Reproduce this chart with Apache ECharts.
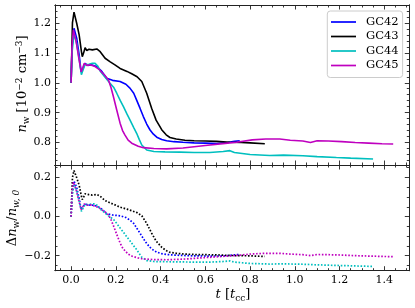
<!DOCTYPE html>
<html>
<head>
<meta charset="utf-8">
<script src="https://cdn.jsdelivr.net/npm/echarts@6/dist/echarts.min.js"></script>
<style>html,body{margin:0;padding:0;background:#fff}#c{width:415px;height:308px}</style>
</head>
<body>
<div id="c"></div>
<script>
// ---- data ----
const names = ['GC42', 'GC43', 'GC44', 'GC45'];
const colors = ['#0000ff', '#000000', '#00bfbf', '#bf00bf'];

const t42 = [0, 0.004, 0.013, 0.025, 0.036, 0.045, 0.052, 0.062, 0.075, 0.09, 0.115, 0.135, 0.159, 0.185, 0.219, 0.245, 0.263, 0.28, 0.293, 0.308, 0.323, 0.338, 0.353, 0.368, 0.383, 0.405, 0.427, 0.46, 0.5, 0.55, 0.6, 0.65, 0.7, 0.73, 0.754];
const n42 = [1.0, 1.12, 1.182, 1.149, 1.093, 1.036, 1.045, 1.065, 1.058, 1.06, 1.054, 1.04, 1.015, 1.008, 1.004, 0.995, 0.982, 0.965, 0.942, 0.915, 0.887, 0.862, 0.842, 0.828, 0.818, 0.81, 0.806, 0.803, 0.801, 0.799, 0.798, 0.797, 0.8, 0.804, 0.806];
const d42 = [0.0, 0.12, 0.182, 0.149, 0.093, 0.036, 0.045, 0.065, 0.058, 0.06, 0.054, 0.04, 0.015, 0.008, 0.004, -0.005, -0.018, -0.035, -0.058, -0.085, -0.113, -0.138, -0.158, -0.172, -0.182, -0.19, -0.194, -0.197, -0.199, -0.201, -0.202, -0.203, -0.2, -0.196, -0.194];

const t43 = [0, 0.006, 0.013, 0.025, 0.036, 0.046, 0.05, 0.056, 0.0625, 0.07, 0.08, 0.095, 0.115, 0.13, 0.152, 0.175, 0.196, 0.219, 0.25, 0.271, 0.295, 0.316, 0.338, 0.36, 0.38, 0.405, 0.425, 0.442, 0.47, 0.509, 0.55, 0.6, 0.65, 0.71, 0.76, 0.8, 0.866];
const n43 = [1.0, 1.2, 1.236, 1.199, 1.16, 1.105, 1.087, 1.1, 1.117, 1.108, 1.112, 1.11, 1.113, 1.104, 1.082, 1.07, 1.06, 1.048, 1.038, 1.03, 1.02, 1.004, 0.965, 0.915, 0.875, 0.843, 0.826, 0.817, 0.812, 0.808, 0.806, 0.805, 0.804, 0.801, 0.8, 0.799, 0.796];
const d43 = [0.0, 0.2, 0.236, 0.199, 0.16, 0.105, 0.087, 0.1, 0.117, 0.108, 0.112, 0.11, 0.113, 0.104, 0.082, 0.07, 0.06, 0.048, 0.038, 0.03, 0.02, 0.004, -0.035, -0.085, -0.125, -0.157, -0.174, -0.183, -0.188, -0.192, -0.194, -0.195, -0.196, -0.199, -0.2, -0.201, -0.204];

const t44 = [0, 0.004, 0.013, 0.025, 0.036, 0.046, 0.052, 0.062, 0.08, 0.095, 0.107, 0.12, 0.129, 0.15, 0.174, 0.19, 0.204, 0.22, 0.234, 0.25, 0.263, 0.28, 0.293, 0.305, 0.316, 0.338, 0.37, 0.42, 0.487, 0.55, 0.62, 0.68, 0.71, 0.73, 0.8, 0.888, 0.95, 1.036, 1.1, 1.186, 1.25, 1.35];
const n44 = [1.0, 1.1, 1.165, 1.13, 1.08, 1.027, 1.04, 1.06, 1.062, 1.065, 1.065, 1.055, 1.04, 1.02, 0.998, 0.985, 0.965, 0.94, 0.92, 0.895, 0.876, 0.85, 0.831, 0.81, 0.792, 0.775, 0.77, 0.769, 0.768, 0.767, 0.767, 0.77, 0.773, 0.767, 0.76, 0.757, 0.758, 0.756, 0.753, 0.75, 0.748, 0.745];
const d44 = [0.0, 0.1, 0.165, 0.13, 0.08, 0.027, 0.04, 0.06, 0.062, 0.065, 0.065, 0.055, 0.04, 0.02, -0.002, -0.015, -0.035, -0.06, -0.08, -0.105, -0.124, -0.15, -0.169, -0.19, -0.208, -0.225, -0.23, -0.231, -0.232, -0.233, -0.233, -0.23, -0.227, -0.233, -0.24, -0.243, -0.242, -0.244, -0.247, -0.25, -0.252, -0.255];

const t45 = [0, 0.004, 0.01, 0.022, 0.035, 0.045, 0.052, 0.059, 0.07, 0.085, 0.107, 0.125, 0.137, 0.15, 0.167, 0.178, 0.189, 0.204, 0.219, 0.23, 0.241, 0.255, 0.271, 0.3, 0.323, 0.37, 0.427, 0.5, 0.6, 0.7, 0.74, 0.81, 0.87, 0.933, 0.98, 1.036, 1.07, 1.1, 1.15, 1.21, 1.27, 1.33, 1.39, 1.44];
const n45 = [1.0, 1.12, 1.177, 1.14, 1.08, 1.036, 1.05, 1.065, 1.058, 1.06, 1.054, 1.045, 1.035, 1.025, 1.009, 0.985, 0.954, 0.909, 0.865, 0.84, 0.825, 0.808, 0.798, 0.788, 0.783, 0.78, 0.779, 0.782, 0.79, 0.798, 0.801, 0.809, 0.812, 0.812, 0.808, 0.805, 0.8, 0.806, 0.805, 0.803, 0.8, 0.798, 0.796, 0.795];
const d45 = [0.0, 0.12, 0.177, 0.14, 0.08, 0.036, 0.05, 0.065, 0.058, 0.06, 0.054, 0.045, 0.035, 0.025, 0.009, -0.015, -0.046, -0.091, -0.135, -0.16, -0.175, -0.192, -0.202, -0.212, -0.217, -0.22, -0.221, -0.218, -0.21, -0.202, -0.199, -0.191, -0.188, -0.188, -0.192, -0.195, -0.2, -0.194, -0.195, -0.197, -0.2, -0.202, -0.204, -0.205];

const xTicks = [0.0, 0.2, 0.4, 0.6, 0.8, 1.0, 1.2, 1.4];
const yTopTicks = [0.8, 0.9, 1.0, 1.1, 1.2];
const yBotTicks = [-0.2, 0.0, 0.2];

// ---- layout / style ----
const SERIF = 'DejaVu Serif';
const xMin = -0.072, xMax = 1.512;
const yTopMin = 0.725, yTopMax = 1.26;
const yBotMin = -0.277, yBotMax = 0.264;

function minorList(step, from, to, majors) {
  const out = [];
  for (let k = Math.ceil(from / step); k * step <= to + 1e-9; k++) {
    const v = +(k * step).toFixed(4);
    if (!majors.some(m => Math.abs(m - v) < 1e-6)) out.push(v);
  }
  return out;
}
const xMinor = minorList(0.05, xMin, xMax, xTicks);
const yTopMinor = minorList(0.02, yTopMin, yTopMax, yTopTicks);
const yBotMinor = minorList(0.05, yBotMin, yBotMax, yBotTicks);

const fmt = v => (Math.abs(v) < 1e-9 ? 0 : v).toFixed(1).replace('-', '\u2212');

function axis(grid, pos, vals, len, labels, min, max) {
  return {
    type: 'value', gridIndex: grid, position: pos, min: min, max: max,
    axisLine: { show: true, onZero: false, lineStyle: { color: '#222', width: 1 } },
    axisTick: { show: true, inside: true, length: len, customValues: vals, lineStyle: { color: '#222', width: 0.9 } },
    axisLabel: { show: labels, customValues: vals, formatter: fmt, fontFamily: SERIF, fontSize: 11, color: '#000', margin: 4 },
    splitLine: { show: false }, minorTick: { show: false }, z: 5
  };
}

const xAxis = [];
const yAxis = [];
[0, 1].forEach(g => {
  xAxis.push(axis(g, 'bottom', xTicks, 4.5, g === 1, xMin, xMax));
  xAxis.push(axis(g, 'bottom', xMinor, 2.5, false, xMin, xMax));
  xAxis.push(axis(g, 'top', xTicks, 4.5, false, xMin, xMax));
  xAxis.push(axis(g, 'top', xMinor, 2.5, false, xMin, xMax));
  const maj = g === 0 ? yTopTicks : yBotTicks;
  const mnr = g === 0 ? yTopMinor : yBotMinor;
  const lo = g === 0 ? yTopMin : yBotMin, hi = g === 0 ? yTopMax : yBotMax;
  yAxis.push(axis(g, 'left', maj, 4.5, true, lo, hi));
  yAxis.push(axis(g, 'left', mnr, 2.5, false, lo, hi));
  yAxis.push(axis(g, 'right', maj, 4.5, false, lo, hi));
  yAxis.push(axis(g, 'right', mnr, 2.5, false, lo, hi));
});

const tArr = [t42, t43, t44, t45];
const nArr = [n42, n43, n44, n45];
const dArr = [d42, d43, d44, d45];
const series = [];
names.forEach((nm, i) => {
  series.push({
    name: nm, type: 'line', xAxisIndex: 0, yAxisIndex: 0, symbol: 'none', silent: true,
    data: tArr[i].map((t, j) => [t, nArr[i][j]]),
    lineStyle: { color: colors[i], width: 1.6 }, itemStyle: { color: colors[i] }, z: 3
  });
});
names.forEach((nm, i) => {
  series.push({
    name: 'd' + nm, type: 'line', xAxisIndex: 4, yAxisIndex: 4, symbol: 'none', silent: true,
    data: tArr[i].map((t, j) => [t, dArr[i][j]]),
    lineStyle: { color: colors[i], width: 1.7, type: [1.6, 1.7] }, itemStyle: { color: colors[i] }, z: 3
  });
});

const sub = { fontFamily: SERIF, fontSize: 9, padding: [8, 0, 0, 0], fill: '#000' };
const sup = { fontFamily: SERIF, fontSize: 9, padding: [0, 0, 7, 0], fill: '#000' };
const it = { fontFamily: SERIF, fontSize: 13, fontStyle: 'italic', fill: '#000' };
const rm = { fontFamily: SERIF, fontSize: 13, fill: '#000' };
const subIt = Object.assign({}, sub, { fontStyle: 'italic' });

const option = {
  animation: false,
  backgroundColor: '#fff',
  grid: [
    { left: 55, right: 5.7, top: 5, height: 160 },
    { left: 55, right: 5.7, top: 165, height: 105.7 }
  ],
  xAxis: xAxis,
  yAxis: yAxis,
  legend: {
    data: names.map((n, i) => ({ name: n, icon: 'rect', itemStyle: { color: colors[i] } })),
    orient: 'vertical', left: 327.3, top: 11,
    itemWidth: 25, itemHeight: 1.7, itemGap: 2.5,
    padding: [5, 4, 6, 3.7],
    backgroundColor: 'rgba(255,255,255,0.85)', borderColor: '#cccccc', borderWidth: 1, borderRadius: 3,
    textStyle: { fontFamily: SERIF, fontSize: 11.5, color: '#000', lineHeight: 12, padding: [0, 0, 0, 5] },
    selectedMode: false, z: 10
  },
  graphic: [
    { type: 'text', x: 23, y: 84, rotation: Math.PI / 2, z: 20,
      style: { text: '{it|n}{sub|w} {rm|[10}{sup|\u22122}{rm| cm}{sup|\u22123}{rm|]}', fontFamily: SERIF, fontSize: 13, align: 'center', verticalAlign: 'middle',
        rich: { it: it, rm: rm, sub: sub, sup: sup } } },
    { type: 'text', x: 13, y: 218, rotation: Math.PI / 2, z: 20,
      style: { text: '{rm|\u0394}{it|n}{sub|w}{rm|/}{it|n}{subi|w, 0}', fontFamily: SERIF, fontSize: 13, align: 'center', verticalAlign: 'middle',
        rich: { it: it, rm: rm, sub: sub, subi: subIt } } },
    { type: 'text', x: 233, y: 295, z: 20,
      style: { text: '{it|t} {rm|[}{it|t}{sub|cc}{rm|]}', fontFamily: SERIF, fontSize: 13, align: 'center', verticalAlign: 'middle',
        rich: { it: it, rm: rm, sub: sub } } }
  ],
  series: series
};

const chart = echarts.init(document.getElementById('c'), null, { renderer: 'canvas' });
chart.setOption(option);
</script>
</body>
</html>
